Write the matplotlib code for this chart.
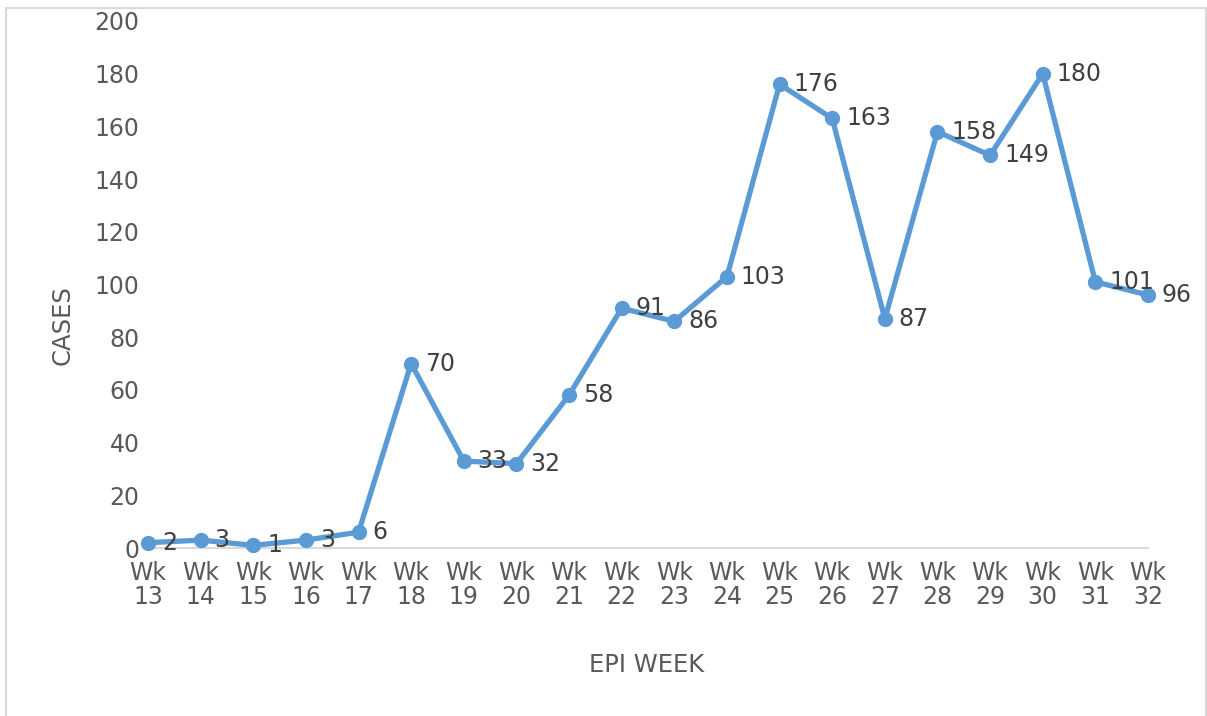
import matplotlib
matplotlib.use("Agg")
import matplotlib.pyplot as plt
from matplotlib.patches import Rectangle

plt.rcParams["font.family"] = ["DejaVu Sans"]

# data
weeks = [f"Wk\n{w}" for w in range(13, 33)]
cases = [2, 3, 1, 3, 6, 70, 33, 32, 58, 91, 86, 103, 176, 163, 87, 158, 149, 180, 101, 96]
y_ticks = list(range(0, 201, 20))

LINE_BLUE = "#5B9BD5"
TICK_GREY = "#595959"
LABEL_DARK = "#404040"

W, H = 1207, 716
fig = plt.figure(figsize=(W / 100, H / 100), dpi=100)
fig.patches.append(Rectangle((6 / W, -0.01), 1200 / W, 1 - 8 / H + 0.01,
                             transform=fig.transFigure, fill=False,
                             edgecolor="#d9d9d9", linewidth=1.5))

ax = fig.add_axes([148 / W, (H - 548) / H, 1000 / W, 527 / H])
x = list(range(len(cases)))
ax.plot(x, cases, color=LINE_BLUE, linewidth=3.8, marker="o",
        markersize=10, clip_on=False, zorder=3)

for xi, yi in zip(x, cases):
    ax.annotate(str(yi), (xi, yi), xytext=(10, 0), textcoords="offset points",
                ha="left", va="center", fontsize=17, color=LABEL_DARK,
                zorder=4)

ax.set_xlim(0, len(cases) - 1)
ax.set_ylim(0, 200)
ax.set_xticks(x)
ax.set_xticklabels(weeks, fontsize=17, color=TICK_GREY, linespacing=1.0)
ax.set_yticks(y_ticks)
ax.set_yticklabels([str(t) for t in y_ticks], fontsize=17, color=TICK_GREY)
ax.tick_params(axis="both", length=0)
ax.tick_params(axis="y", pad=6)
ax.tick_params(axis="x", pad=9)

for side in ["top", "right", "left"]:
    ax.spines[side].set_visible(False)
ax.spines["bottom"].set_color("#d9d9d9")
ax.spines["bottom"].set_linewidth(1.5)

fig.text(63 / W, 1 - 325 / H, "CASES", rotation=90, ha="center", va="center",
         fontsize=17.5, color=TICK_GREY)
fig.text(647 / W, 1 - 665 / H, "EPI WEEK", ha="center", va="center",
         fontsize=17.5, color=TICK_GREY)

fig.savefig("out.png", dpi=100)
